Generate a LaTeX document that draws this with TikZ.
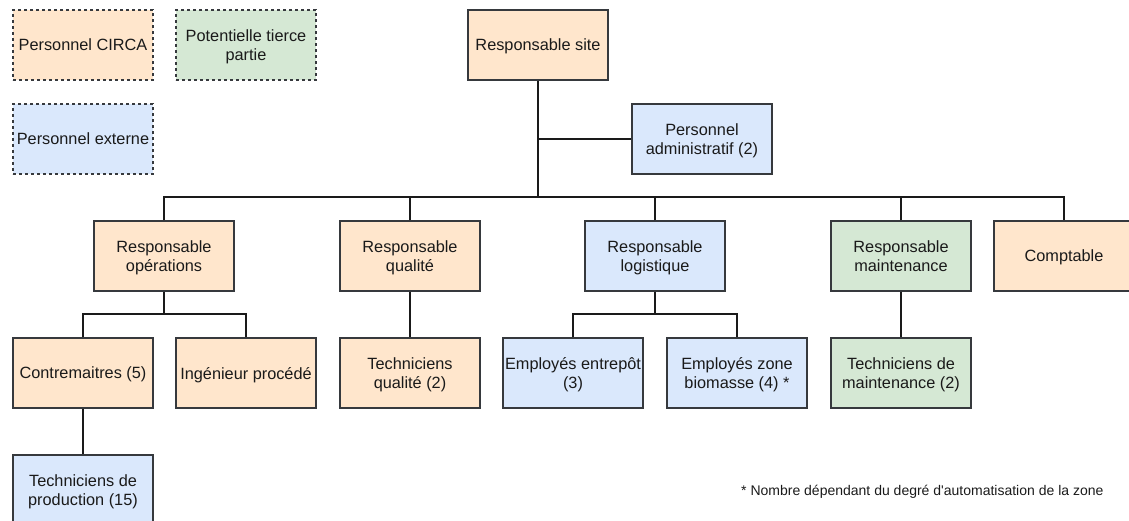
\documentclass[tikz,border=0pt]{standalone}
\usepackage{fontspec}
\setmainfont{Liberation Sans}
\definecolor{orgfill}{HTML}{FFE6CC}
\definecolor{bluefill}{HTML}{DAE8FC}
\definecolor{grnfill}{HTML}{D5E8D4}
\definecolor{strokec}{HTML}{36393D}
\definecolor{txtc}{HTML}{1A1A1A}
\tikzset{
  box/.style={draw=strokec, line width=1.3pt, minimum width=140pt, minimum height=70pt,
    inner sep=0pt, align=center, text=txtc, text depth=0pt, font=\fontsize{16.3}{19.8}\selectfont},
  orgbox/.style={box, fill=orgfill},
  bluebox/.style={box, fill=bluefill},
  grnbox/.style={box, fill=grnfill},
  legendbox/.style={dash pattern=on 3pt off 3pt},
  conn/.style={draw=txtc, line width=1.3pt},
}
\begin{document}
\begin{tikzpicture}[x=1pt,y=-1pt]
\useasboundingbox (0,0) rectangle (1129,520);
% legend
\node[orgbox, legendbox] (circa) at (83,45) {Personnel CIRCA};
\node[grnbox, legendbox] (tierce) at (246,45) {Potentielle tierce\\partie};
\node[bluebox, legendbox] (ext) at (83,139) {Personnel externe};
% top
\node[orgbox] (site) at (538,45) {Responsable site};
\node[bluebox] (admin) at (702,139) {Personnel\\administratif (2)};
% level 2
\node[orgbox] (ops) at (164,256) {Responsable\\opérations};
\node[orgbox] (qual) at (410,256) {Responsable\\qualité};
\node[bluebox] (log) at (655,256) {Responsable\\logistique};
\node[grnbox] (maint) at (901,256) {Responsable\\maintenance};
\node[orgbox] (compt) at (1064,256) {Comptable};
% level 3
\node[orgbox] (contre) at (83,373) {Contremaitres (5)};
\node[orgbox] (ing) at (246,373) {Ingénieur procédé};
\node[orgbox] (techq) at (410,373) {Techniciens\\qualité (2)};
\node[bluebox] (entre) at (573,373) {Employés entrepôt\\(3)};
\node[bluebox] (bio) at (737,373) {Employés zone\\biomasse (4) *};
\node[grnbox] (techm) at (901,373) {Techniciens de\\maintenance (2)};
% level 4
\node[bluebox] (techp) at (83,490) {Techniciens de\\production (15)};
% footnote
\node[anchor=west, inner sep=0pt, text=txtc, font=\fontsize{14}{16}\selectfont] (note) at (741,492)
  {* Nombre dépendant du degré d\textquotesingle automatisation de la zone};
% connectors
\coordinate (trunk) at (538,197);
\coordinate (opsj) at (164,314);
\coordinate (logj) at (655,314);
\draw[conn] (site.south) -- (trunk);
\draw[conn] (site.south |- admin.west) -- (admin.west);
\draw[conn] (ops.north) |- (trunk) -| (compt.north);
\draw[conn] (qual.north) -- (qual.north |- trunk);
\draw[conn] (log.north) -- (log.north |- trunk);
\draw[conn] (maint.north) -- (maint.north |- trunk);
\draw[conn] (ops.south) -- (opsj);
\draw[conn] (contre.north) |- (opsj) -| (ing.north);
\draw[conn] (log.south) -- (logj);
\draw[conn] (entre.north) |- (logj) -| (bio.north);
\draw[conn] (contre.south) -- (techp.north);
\draw[conn] (qual.south) -- (techq.north);
\draw[conn] (maint.south) -- (techm.north);
\end{tikzpicture}
\end{document}
